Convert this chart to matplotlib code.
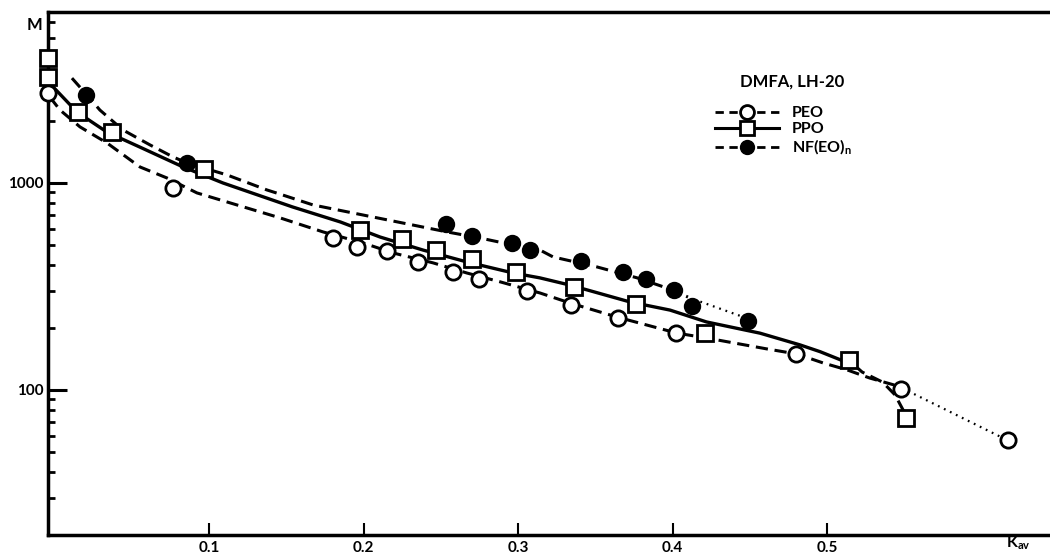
import matplotlib.pyplot as plt
from matplotlib.lines import Line2D

plt.rcParams['font.family'] = ['Lato', 'DejaVu Sans']
plt.rcParams['font.weight'] = 'bold'
plt.rcParams['mathtext.fontset'] = 'custom'
plt.rcParams['mathtext.rm'] = 'Lato:bold'

# measured points (Kav, M)
peo_x = [-0.004, 0.0766, 0.180, 0.196, 0.215, 0.235, 0.258, 0.275, 0.306,
         0.334, 0.365, 0.402, 0.480, 0.548, 0.617]
peo_m = [2730, 950, 543, 490, 471, 416, 373, 345, 302, 257, 223, 188, 149, 101, 57]

ppo_x = [-0.004, -0.004, 0.015, 0.0375, 0.0969, 0.1975, 0.225, 0.247, 0.270,
         0.299, 0.336, 0.3765, 0.421, 0.514, 0.551]
ppo_m = [4000, 3260, 2190, 1760, 1170, 592, 537, 473, 427, 373, 315, 259, 188, 139, 73.5]

nf_x = [0.0202, 0.086, 0.2534, 0.270, 0.296, 0.308, 0.3405, 0.368, 0.383,
        0.401, 0.4125, 0.449]
nf_m = [2670, 1242, 636, 552, 511, 473, 421, 373, 345, 303, 254, 216]

# hand-drawn curves
peo_fit_x = [-0.003, 0.0036, 0.0165, 0.034, 0.0553, 0.0728, 0.0922, 0.1246, 0.146,
             0.1738, 0.1997, 0.2191, 0.245, 0.267, 0.2883, 0.3142, 0.3336, 0.364,
             0.403, 0.4223, 0.4606, 0.4806, 0.4974, 0.5129, 0.5278, 0.5427, 0.5486]
peo_fit_m = [2600, 2250, 1866, 1560, 1195, 1057, 895, 757, 678, 580, 513, 459, 411,
             367, 333, 294, 263, 225, 188, 178, 158, 149, 135, 125, 114, 106, 102]
peo_tail_x = [0.5486, 0.617]
peo_tail_m = [102, 57]

ppo_fit_x = [-0.004, 0.0146, 0.034, 0.0553, 0.0832, 0.109, 0.154, 0.185, 0.2107,
             0.2385, 0.267, 0.297, 0.314, 0.3336, 0.3725, 0.3984, 0.422, 0.4566,
             0.4825, 0.4955, 0.5084, 0.518]
ppo_fit_m = [3080, 2200, 1760, 1490, 1195, 1000, 766, 648, 548, 474, 415, 367, 348,
             321, 266, 243, 213, 188, 165, 153, 140, 131]
ppo_tail_x = [0.518, 0.5227, 0.536, 0.544, 0.550]
ppo_tail_m = [131, 122, 109, 94.6, 78]

nf_fit_x = [0.0113, 0.021, 0.0294, 0.0443, 0.0618, 0.0767, 0.0858, 0.1117, 0.1375,
            0.146, 0.1673, 0.1997, 0.232, 0.254, 0.2754, 0.297, 0.3142, 0.3227,
            0.351, 0.377, 0.394, 0.41]
nf_fit_m = [3210, 2660, 2250, 1803, 1527, 1336, 1249, 1093, 925, 883, 783, 700, 626,
            580, 542, 501, 474, 439, 393, 348, 315, 281]
nf_tail_x = [0.418, 0.4437, 0.449]
nf_tail_m = [267, 228, 216]

yticks = [100, 1000]
xticks = [0.1, 0.2, 0.3, 0.4, 0.5]

fig = plt.figure(figsize=(10.5, 5.55), dpi=100)
ax = fig.add_axes([48 / 1050, 1 - 535 / 555, 1000 / 1050, 523 / 555])

dash = (4, 2.2)
ax.plot(peo_fit_x, peo_fit_m, color='k', lw=2.2, dashes=dash)
ax.plot(peo_tail_x, peo_tail_m, color='k', lw=1.6, dashes=(0.8, 2.2))
ax.plot(ppo_fit_x, ppo_fit_m, color='k', lw=2.4, ls='-')
ax.plot(ppo_tail_x, ppo_tail_m, color='k', lw=2.2, dashes=dash)
ax.plot(nf_fit_x, nf_fit_m, color='k', lw=2.2, dashes=dash)
ax.plot(nf_tail_x, nf_tail_m, color='k', lw=1.6, dashes=(0.8, 2.2))

ax.plot(peo_x, peo_m, ls='none', marker='o', ms=11, mfc='white', mec='k', mew=2,
        clip_on=False, zorder=4)
ax.plot(ppo_x, ppo_m, ls='none', marker='s', ms=11.5, mfc='white', mec='k', mew=2,
        clip_on=False, zorder=4)
ax.plot(nf_x, nf_m, ls='none', marker='o', ms=11, mfc='k', mec='k', mew=1.5,
        clip_on=False, zorder=4)

ax.set_yscale('log')
ax.set_xlim(-0.0042, 0.643)
ax.set_ylim(19.9, 6700)
ax.set_yticks(yticks)
ax.set_yticklabels([str(v) for v in yticks])
ax.set_xticks(xticks)
ax.set_xticklabels([str(v) for v in xticks])
ax.tick_params(axis='y', which='major', direction='in', length=14, width=2.2,
               labelsize=11, pad=3)
ax.tick_params(axis='y', which='minor', direction='in', length=5, width=2)
ax.tick_params(axis='y', which='minor', labelleft=False)
ax.tick_params(axis='x', which='major', direction='in', length=9, width=1.5,
               labelsize=11, pad=4)

for s in ['left', 'bottom', 'top']:
    ax.spines[s].set_linewidth(2.5)
ax.spines['right'].set_visible(False)

ax.text(-0.006, 0.975, 'M', transform=ax.transAxes, fontsize=12, ha='right',
        va='center')
ax.text(0.97, -0.016, r'K$_{\mathrm{av}}$', transform=ax.transAxes, fontsize=11.5,
        ha='center', va='center')

ax.text(0.692, 0.868, 'DMFA, LH-20', transform=ax.transAxes, fontsize=12,
        ha='left', va='center')

handles = [
    Line2D([], [], color='k', lw=2, dashes=(3, 2), marker='o', ms=10,
           mfc='white', mec='k', mew=2),
    Line2D([], [], color='k', lw=2.2, ls='-', marker='s', ms=10,
           mfc='white', mec='k', mew=2),
    Line2D([], [], color='k', lw=2, dashes=(3, 2), marker='o', ms=10,
           mfc='k', mec='k'),
]
labels = ['PEO', 'PPO', r'NF(EO)$_{\mathrm{n}}$']
ax.legend(handles, labels, loc='upper left', bbox_to_anchor=(0.667, 0.82),
          frameon=False, fontsize=11.5, handlelength=4.0, handletextpad=0.8,
          labelspacing=0.1, borderpad=0, borderaxespad=0)

fig.savefig('out.png', dpi=100)
